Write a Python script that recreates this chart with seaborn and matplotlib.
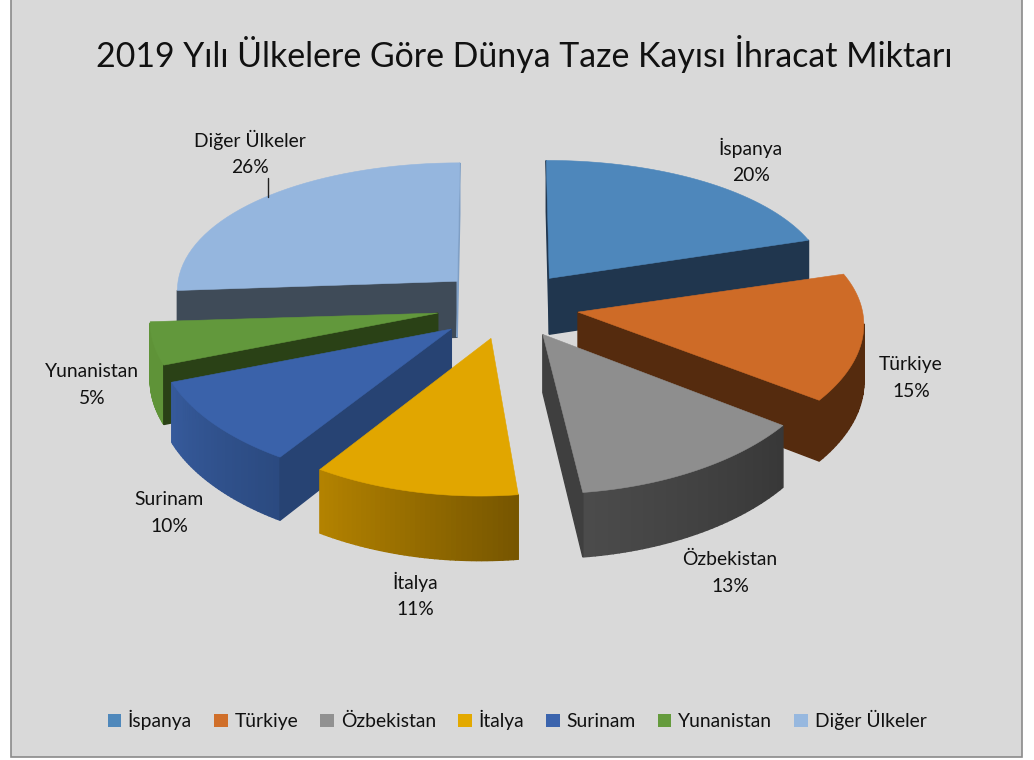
import numpy as np
import matplotlib
matplotlib.use("Agg")
import matplotlib.pyplot as plt
from matplotlib.patches import Patch, Rectangle
from matplotlib.colors import to_rgb
import seaborn as sns

# ---- data ----
countries = ["İspanya", "Türkiye", "Özbekistan", "İtalya", "Surinam", "Yunanistan", "Diğer Ülkeler"]
shares = [20, 15, 13, 11, 10, 5, 26]
title = "2019 Yılı Ülkelere Göre Dünya Taze Kayısı İhracat Miktarı"

# ---- style ----
top_colors = ["#4e87bb", "#ce6b27", "#8e8e8e", "#e1a600", "#3a62aa", "#62983c", "#95b6de"]
legend_colors = ["#4f88bb", "#d06f2a", "#919191", "#e3a900", "#3b64ad", "#659b3d", "#97b8df"]
arc_start = ["#20364e", "#552b0e", "#383838", "#775600", "#2b4a80", "#5f9338", "#7f9fc5"]
arc_end = ["#20364e", "#552b0e", "#4b4b4b", "#b38200", "#365a9b", "#5f9338", "#7f9fc5"]
face_start = ["#20364e", "#552b0e", "#3f3f3f", "#775600", "#274373", "#2a4116", "#3f4b58"]
face_end = ["#20364e", "#552b0e", "#3f3f3f", "#775600", "#274373", "#2a4116", "#7f9fc5"]
label_xy = [(751, 161), (911, 378), (730, 573), (415, 595), (169, 513), (92, 385), (250, 153)]
draw_order = [0, 6, 1, 5, 4, 3, 2]
# small per-slice screen nudges (pixels) for the perspective of the original
arc_nudge = [(1, -1), (5, 4), (0, 3), (-11, 1), (-12, 2), (-8, 0), (-2, -2)]
tip_nudge = [(2, -2), (3, 1), (0, 0), (-2, 0), (-4, 2), (-4, 0), (-2, -3)]

CX, CY, RX, RY, KX, KY, DEPTH, EXPLODE = 508, 306, 282, 135, 0.055, 0.095, 57, 0.24
FONT = "Lato"
N = 40

sns.set_theme(style="white", rc={"font.family": FONT})
palette = sns.color_palette(top_colors)


def project(x, y, drop=0.0):
    sx = 1.0 / (1.0 + KX * y)
    sy = 1.0 / (1.0 + KY * y)
    return CX + RX * x * sx, CY - RY * y * sy + drop * DEPTH * sy


def visible(quad):
    a = np.array(quad)
    x, y = a[:, 0], a[:, 1]
    return np.sum(x * np.roll(y, -1) - np.roll(x, -1) * y) < 0


def wall(ax, p, q, color):
    quad = [project(*p), project(*q), project(*q, 1.0), project(*p, 1.0)]
    if visible(quad):
        ax.fill(*zip(*quad), color=color, lw=1.0, zorder=3)


fig, ax = plt.subplots(figsize=(10.34, 7.6), dpi=100)
fig.subplots_adjust(0, 0, 1, 1)
fig.patch.set_facecolor("white")
ax.set_xlim(0, 1034)
ax.set_ylim(760, 0)
ax.axis("off")
ax.add_patch(Rectangle((11, -3), 1011, 760, facecolor="#d9d9d9", edgecolor="#8a8a8a", lw=1.2, zorder=0))

fractions = np.array(shares, dtype=float) / sum(shares)
edges = np.concatenate([[0.0], np.cumsum(fractions)]) * 2 * np.pi

for i in draw_order:
    a0, a1 = edges[i], edges[i + 1]
    mid = (a0 + a1) / 2
    tip0 = (EXPLODE * np.sin(mid), EXPLODE * np.cos(mid))
    tip = (tip0[0] + tip_nudge[i][0] / RX, tip0[1] - tip_nudge[i][1] / RY)
    base = (tip0[0] + arc_nudge[i][0] / RX, tip0[1] - arc_nudge[i][1] / RY)
    th = np.linspace(a0, a1, N + 1)
    arc = [(base[0] + np.sin(t), base[1] + np.cos(t)) for t in th]
    c0, c1 = np.array(to_rgb(arc_start[i])), np.array(to_rgb(arc_end[i]))
    for k in range(N):
        wall(ax, arc[k], arc[k + 1], tuple(c0 + (c1 - c0) * k / (N - 1)))
    wall(ax, tip, arc[0], face_start[i])
    wall(ax, arc[-1], tip, face_end[i])
    outline = [project(*tip)] + [project(*p) for p in arc]
    ax.fill(*zip(*outline), color=palette[i], lw=0.4, zorder=3)

for name, share, (x, y) in zip(countries, shares, label_xy):
    ax.text(x, y, f"{name}\n{share}%", ha="center", va="center", fontsize=13.9,
            color="#111111", linespacing=1.68, zorder=5)
ax.plot([268, 268], [178, 197], color="#222222", lw=1, zorder=5)

ax.text(524, 54, title, ha="center", va="center", fontsize=24.4, color="#111111", zorder=5)

handles = [Patch(facecolor=c, edgecolor="none") for c in legend_colors]
ax.legend(handles, countries, ncol=7, frameon=False, loc="center", bbox_to_anchor=(517 / 1034, 1 - 720 / 760),
          fontsize=13.9, handlelength=0.7, handleheight=0.7, handletextpad=0.35, columnspacing=1.15,
          labelcolor="#111111")

fig.savefig("out.png", dpi=100)
